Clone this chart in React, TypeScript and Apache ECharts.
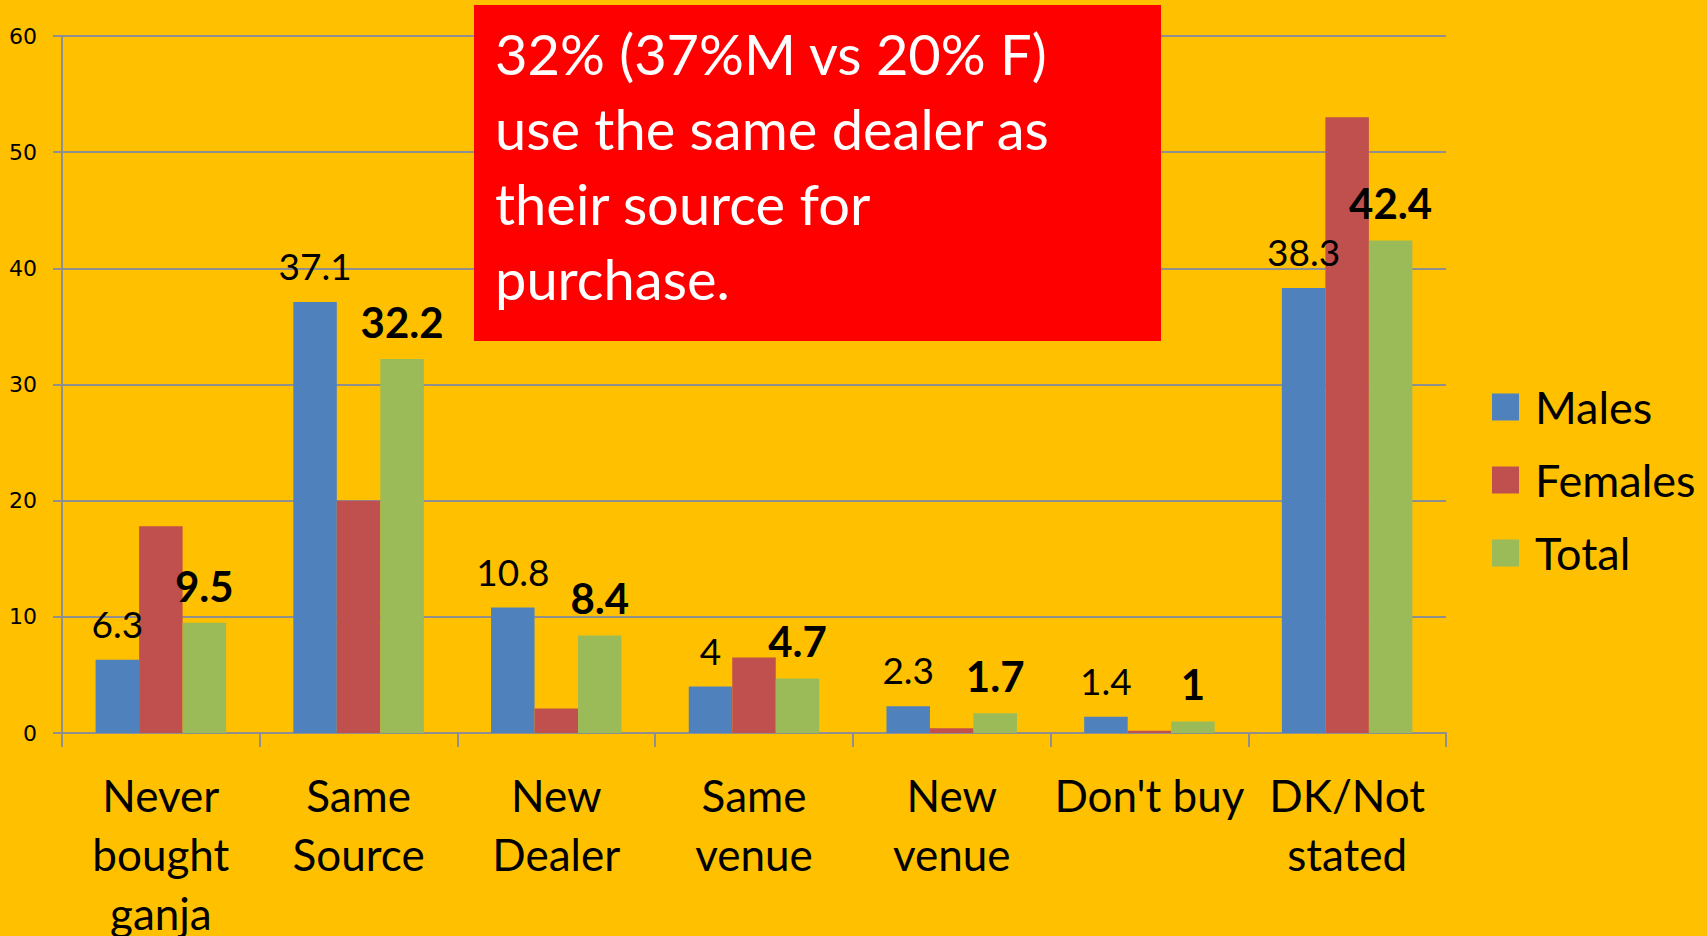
import React, { useEffect, useRef } from "react";
import * as echarts from "echarts";

const categories = [
  "Never\nbought\nganja",
  "Same\nSource",
  "New\nDealer",
  "Same\nvenue",
  "New\nvenue",
  "Don't buy",
  "DK/Not\nstated",
];
const males = [6.3, 37.1, 10.8, 4, 2.3, 1.4, 38.3];
const females = [17.8, 20, 2.1, 6.5, 0.4, 0.2, 53];
const total = [9.5, 32.2, 8.4, 4.7, 1.7, 1, 42.4];
const seriesNames = ["Males", "Females", "Total"];
const calloutLines = [
  "32% (37%M vs 20% F)",
  "use the same dealer as",
  "their source for",
  "purchase.",
];

const FONT = "Lato";

export default function App() {
  const ref = useRef<HTMLDivElement>(null);
  useEffect(() => {
    document.body.style.margin = "0";
    const chart = echarts.init(ref.current!, null, { renderer: "svg" });
    const gridColor = "#8f8f8f";
    chart.setOption({
      animation: false,
      backgroundColor: "#FFC000",
      color: ["#4F81BD", "#C0504D", "#9BBB59"],
      grid: {
        left: 62,
        right: 261,
        top: 36,
        bottom: 203,
        containLabel: false,
        outerBoundsMode: "none",
      },
      legend: {
        orient: "vertical",
        left: 1492,
        top: 384,
        padding: 0,
        icon: "rect",
        itemWidth: 27,
        itemHeight: 27,
        itemGap: 27,
        data: seriesNames,
        textStyle: {
          fontFamily: FONT,
          fontSize: 45,
          lineHeight: 46,
          color: "#000",
          padding: [0, 0, 0, 11],
        },
      },
      xAxis: {
        type: "category",
        data: categories,
        axisLine: { lineStyle: { color: gridColor, width: 2 } },
        axisTick: { show: true, length: 14, lineStyle: { color: gridColor, width: 2 } },
        axisLabel: {
          fontFamily: FONT,
          fontSize: 44,
          lineHeight: 59,
          color: "#000",
          margin: 32,
          interval: 0,
        },
      },
      yAxis: {
        type: "value",
        min: 0,
        max: 60,
        interval: 10,
        axisLine: { show: true, lineStyle: { color: gridColor, width: 2 } },
        axisTick: { show: true, length: 9, lineStyle: { color: gridColor, width: 2 } },
        splitLine: { lineStyle: { color: gridColor, width: 2 } },
        axisLabel: {
          fontFamily: "DejaVu Sans",
          fontSize: 22,
          color: "#000",
          margin: 25,
        },
      },
      series: [
        {
          name: seriesNames[0],
          type: "bar",
          data: males,
          barGap: "0%",
          barCategoryGap: "34%",
          label: {
            show: true,
            position: "top",
            distance: 18,
            fontFamily: FONT,
            fontSize: 37,
            color: "#000",
          },
        },
        {
          name: seriesNames[1],
          type: "bar",
          data: females,
          barGap: "0%",
          barCategoryGap: "34%",
        },
        {
          name: seriesNames[2],
          type: "bar",
          data: total,
          barGap: "0%",
          barCategoryGap: "34%",
          label: {
            show: true,
            position: "top",
            distance: 16,
            fontFamily: FONT,
            fontSize: 42,
            fontWeight: "bold",
            color: "#000",
          },
        },
      ],
      graphic: [
        {
          type: "rect",
          shape: { x: 474, y: 5, width: 687, height: 336 },
          style: { fill: "#FF0000" },
          z: 100,
        },
        {
          type: "text",
          x: 495,
          y: 16,
          z: 101,
          style: {
            text: calloutLines.join("\n"),
            fill: "#FFFFFF",
            fontFamily: FONT,
            fontSize: 56,
            lineHeight: 75,
            verticalAlign: "top",
            align: "left",
          },
        },
      ],
    });
    return () => chart.dispose();
  }, []);
  return <div ref={ref} style={{ width: 1707, height: 936 }} />;
}
